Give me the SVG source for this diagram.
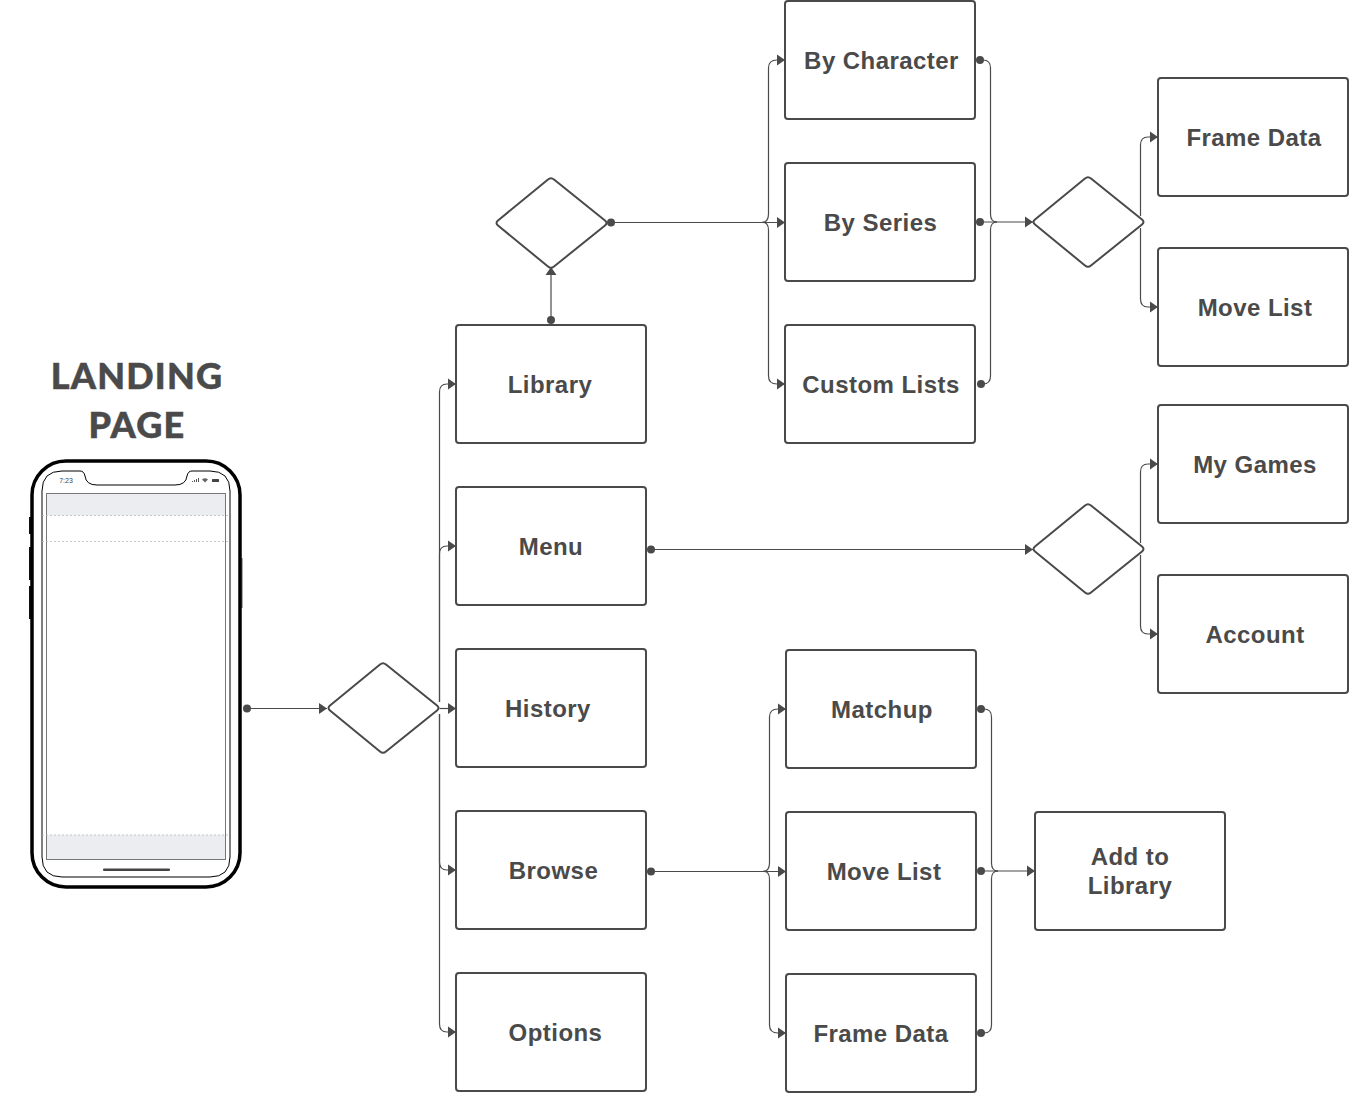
<svg xmlns="http://www.w3.org/2000/svg" width="1349" height="1093" viewBox="0 0 1349 1093">
<defs>
<marker id="arr" markerWidth="10" markerHeight="12" refX="8.5" refY="6" orient="auto" markerUnits="userSpaceOnUse"><path d="M0.500 0.500L8.500 6L0.500 11.500Z" fill="#4a4a4a"/></marker>
<marker id="dot" markerWidth="10" markerHeight="10" refX="5" refY="5" orient="auto" markerUnits="userSpaceOnUse"><circle cx="5" cy="5" r="4" fill="#4a4a4a"/></marker>
</defs>
<style>
.box{fill:#fff;stroke:#4a4a4a;stroke-width:2}
.dia{fill:#fff;stroke:#4a4a4a;stroke-width:2;stroke-linejoin:round}
.lb{font-family:"Liberation Sans",Arial,sans-serif;font-weight:700;font-size:24px;letter-spacing:.45px;fill:#4a4a4a;text-anchor:middle}
.ttl{font-family:"Lato","Noto Sans","Liberation Sans",sans-serif;font-weight:900;font-size:36px;letter-spacing:1.2px;fill:#4a4a4a;stroke:#4a4a4a;stroke-width:.5px;text-anchor:middle}
.c{fill:none;stroke:#4a4a4a;stroke-width:1.2}
.s{marker-start:url(#dot)}
.e{marker-end:url(#arr)}
</style>
<rect width="1349" height="1093" fill="#fff"/>
<g id="connectors">
<path class="c s e" d="M247 708.500H327"/>
<path class="c e" d="M439.500 708.500H456"/>
<path class="c e" d="M439.500 702V392Q439.500 384 447 384H456"/>
<path class="c e" d="M439.500 702V554Q439.500 546 447 546H456"/>
<path class="c e" d="M439.500 714V862Q439.500 870 447 870H456"/>
<path class="c e" d="M439.500 714V1024Q439.500 1032 447 1032H456"/>
<path class="c s e" d="M551 320V267"/>
<path class="c s e" d="M611 222.500H785"/>
<path class="c e" d="M768.500 214V68Q768.500 60 777 60H785"/>
<path class="c e" d="M768.500 230V376Q768.500 384 777 384H785"/>
<path class="c" d="M768.500 214Q768.500 222 762 222.500Q768.500 222 768.500 230"/>
<path class="c s" d="M980 60H983Q990.500 60 990.500 68V214Q990.500 222 997 222"/>
<path class="c s" d="M981 384H983Q990.500 384 990.500 376V230Q990.500 222 997 222"/>
<path class="c s e" d="M980 222H1033"/>
<path class="c e" d="M1140.500 216V145Q1140.500 137 1148 137H1158"/>
<path class="c e" d="M1140.500 228V299Q1140.500 307 1148 307H1158"/>
<path class="c s e" d="M651 549.500H1033"/>
<path class="c e" d="M1140.500 543V472Q1140.500 464 1148 464H1158"/>
<path class="c e" d="M1140.500 555V626Q1140.500 634 1148 634H1158"/>
<path class="c s e" d="M651 871.500H786"/>
<path class="c e" d="M769.500 863V717Q769.500 709 778 709H786"/>
<path class="c e" d="M769.500 879V1025Q769.500 1033 778 1033H786"/>
<path class="c" d="M769.500 863Q769.500 871 763 871.500Q769.500 871 769.500 879"/>
<path class="c s" d="M981 709H984Q991.500 709 991.500 717V863Q991.500 871 998 871"/>
<path class="c s" d="M981 1033H984Q991.500 1033 991.500 1025V879Q991.500 871 998 871"/>
<path class="c s e" d="M981 871H1035"/>
</g>
<g id="phone">
<rect x="29" y="517" width="3" height="17" fill="#111"/>
<rect x="29" y="547" width="3" height="33" fill="#111"/>
<rect x="29" y="586" width="3" height="33" fill="#111"/>
<rect x="240" y="558" width="2.700" height="50" fill="#888"/>
<rect x="32" y="461" width="208" height="426" rx="34" fill="#fff" stroke="#000" stroke-width="3.500"/>
<path d="M62 471H80Q84 471 85 476Q86 485 97 485H175Q186 485 187 476Q188 471 192 471H210Q230 471 230 491V857Q230 877 210 877H62Q42 877 42 857V491Q42 471 62 471Z" fill="#fff" stroke="#000" stroke-width="1"/>
<rect x="46.500" y="493.500" width="179" height="22" fill="#ecedf1"/>
<rect x="46.500" y="835" width="179" height="24" fill="#ecedf1"/>
<rect x="46.500" y="493.500" width="179" height="366" fill="none" stroke="#777" stroke-width="1"/>
<path d="M42 515.500H230M42 541.500H230M42 835H230" stroke="#bbb" stroke-width="0.8" stroke-dasharray="2 2" fill="none"/>
<rect x="103" y="868.500" width="67" height="2.500" rx="1" fill="#444"/>
<text x="66" y="483" font-family="Liberation Sans,sans-serif" font-size="7" fill="#444" text-anchor="middle">7:23</text>
<path d="M192 481h1v1h-1zM194 480h1v2h-1zM196 479h1v3h-1zM198 478h1v4h-1z" fill="#555"/>
<path d="M202 479.500Q205 477 208 479.500L205 482.500Z" fill="#666"/>
<rect x="212" y="479" width="7" height="3" rx="0.500" fill="#444"/>
</g>
<g id="title"><text class="ttl" x="137" y="389">LANDING</text><text class="ttl" x="137" y="438">PAGE</text></g>
<g id="d1"><path class="dia" d="M330 705.500L380 664.500Q383 662 386 664.500L437 705.500Q440 708 437 710.500L386 751.500Q383 754 380 751.500L330 710.500Q327 708 330 705.500Z"/></g>
<g id="d2"><path class="dia" d="M498 220.500L548 179.500Q551 177 554 179.500L605 220.500Q608 223 605 225.500L554 266.500Q551 269 548 266.500L498 225.500Q495 223 498 220.500Z"/></g>
<g id="d3"><path class="dia" d="M1035 219.500L1085 178.500Q1088 176 1091 178.500L1142 219.500Q1145 222 1142 224.500L1091 265.500Q1088 268 1085 265.500L1035 224.500Q1032 222 1035 219.500Z"/></g>
<g id="d4"><path class="dia" d="M1035 546.500L1085 505.500Q1088 503 1091 505.500L1142 546.500Q1145 549 1142 551.500L1091 592.500Q1088 595 1085 592.500L1035 551.500Q1032 549 1035 546.500Z"/></g>
<g id="n-library"><rect class="box" x="456" y="325" width="190" height="118" rx="3"/><text class="lb" x="550" y="393">Library</text></g>
<g id="n-menu"><rect class="box" x="456" y="487" width="190" height="118" rx="3"/><text class="lb" x="551" y="555">Menu</text></g>
<g id="n-history"><rect class="box" x="456" y="649" width="190" height="118" rx="3"/><text class="lb" x="548" y="717">History</text></g>
<g id="n-browse"><rect class="box" x="456" y="811" width="190" height="118" rx="3"/><text class="lb" x="553.500" y="879">Browse</text></g>
<g id="n-options"><rect class="box" x="456" y="973" width="190" height="118" rx="3"/><text class="lb" x="555.500" y="1041">Options</text></g>
<g id="n-bychar"><rect class="box" x="785" y="1" width="190" height="118" rx="3"/><text class="lb" x="881.500" y="69">By Character</text></g>
<g id="n-byseries"><rect class="box" x="785" y="163" width="190" height="118" rx="3"/><text class="lb" x="880.500" y="231">By Series</text></g>
<g id="n-custom"><rect class="box" x="785" y="325" width="190" height="118" rx="3"/><text class="lb" x="881" y="393">Custom Lists</text></g>
<g id="n-framedata"><rect class="box" x="1158" y="78" width="190" height="118" rx="3"/><text class="lb" x="1254" y="146">Frame Data</text></g>
<g id="n-movelist"><rect class="box" x="1158" y="248" width="190" height="118" rx="3"/><text class="lb" x="1255" y="316">Move List</text></g>
<g id="n-mygames"><rect class="box" x="1158" y="405" width="190" height="118" rx="3"/><text class="lb" x="1255" y="473">My Games</text></g>
<g id="n-account"><rect class="box" x="1158" y="575" width="190" height="118" rx="3"/><text class="lb" x="1255" y="643">Account</text></g>
<g id="n-matchup"><rect class="box" x="786" y="650" width="190" height="118" rx="3"/><text class="lb" x="882" y="718">Matchup</text></g>
<g id="n-movelist2"><rect class="box" x="786" y="812" width="190" height="118" rx="3"/><text class="lb" x="884" y="880">Move List</text></g>
<g id="n-framedata2"><rect class="box" x="786" y="974" width="190" height="118" rx="3"/><text class="lb" x="881" y="1042">Frame Data</text></g>
<g id="n-add"><rect class="box" x="1035" y="812" width="190" height="118" rx="3"/><text class="lb" x="1130" y="865">Add to</text><text class="lb" x="1130" y="894">Library</text></g>
</svg>
